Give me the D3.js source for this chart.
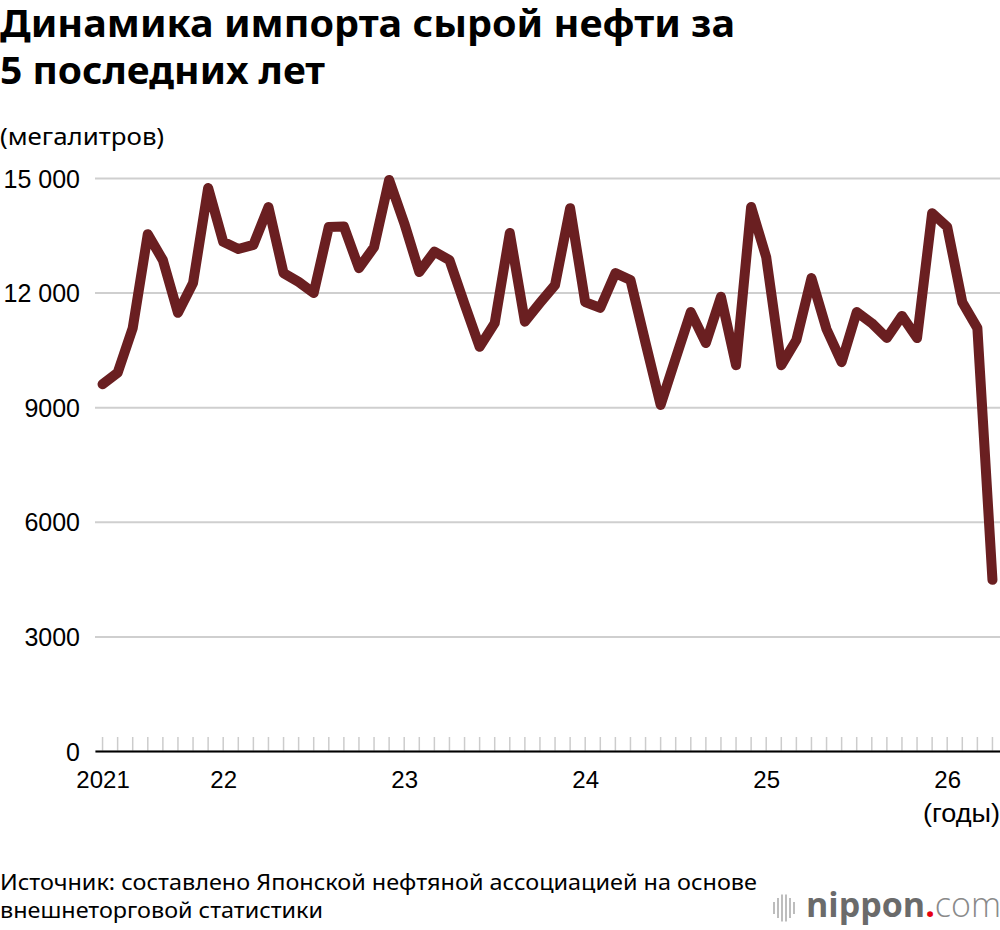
<!DOCTYPE html>
<html>
<head>
<meta charset="utf-8">
<script src="https://cdn.jsdelivr.net/npm/d3@7"></script>
<style>
  body { margin: 0; background: #fff; }
  svg { display: block; }
</style>
</head>
<body>
<script>
// Page size, same as the browser window.
var svg_width = 1000;
var svg_height = 930;

// Monthly imports, May 2021 .. April 2026 (megalitres).
var first_month = new Date(2021, 4, 1);
var months = d3.timeMonth.range(first_month, new Date(2026, 4, 1));
var imports = [
    9600, 9900, 11070, 13530, 12850, 11470, 12250, 14740,
    13330, 13140, 13250, 14240, 12510, 12280, 11990, 13720, 13730, 12640, 13190, 14950,
    13820, 12540, 13070, 12850, 11700, 10580, 11200, 13560, 11240, 11730, 12200, 14210,
    11750, 11600, 12510, 12330, 10680, 9060, 10280, 11490, 10680, 11890, 10100, 14240,
    12930, 10100, 10760, 12380, 11040, 10180, 11490, 11200, 10810, 11390, 10810, 14080,
    13720, 11750, 11070, 4480
];

// Axis labels.
var y_ticks = [0, 3000, 6000, 9000, 12000, 15000];
var y_tick_labels = ["0", "3000", "6000", "9000", "12 000", "15 000"];
var year_ticks = ["2021-05", "2022-01", "2023-01", "2024-01", "2025-01", "2026-01"];
var year_labels = ["2021", "22", "23", "24", "25", "26"];

var title_lines = ["Динамика импорта сырой нефти за", "5 последних лет"];
var unit_label = "(мегалитров)";
var x_unit_label = "(годы)";
var source_lines = [
    "Источник: составлено Японской нефтяной ассоциацией на основе",
    "внешнеторговой статистики"
];

// The plot area.
var chart_margin = { top: 178, right: 0, bottom: 179, left: 95 };
var chartWidth = svg_width - chart_margin.left - chart_margin.right;
var chartHeight = svg_height - chart_margin.top - chart_margin.bottom;

var fmt = d3.timeFormat("%Y-%m");
var keys = months.map(fmt);

var svg = d3.select("body")
    .append("svg")
    .attr("width", svg_width)
    .attr("height", svg_height);

// Title and unit. The original face is a bit wider than Noto Sans,
// so the lines are stretched to the widths seen in the picture.
var title_widths = [735, 325];
svg.append("g")
    .selectAll("text")
    .data(title_lines)
    .enter()
    .append("text")
    .attr("x", 0)
    .attr("y", function (d, i) { return 37 + i * 47; })
    .attr("font-family", "Noto Sans")
    .attr("font-weight", "bold")
    .attr("font-size", "38px")
    .attr("fill", "#000")
    .attr("textLength", function (d, i) { return title_widths[i]; })
    .attr("lengthAdjust", "spacingAndGlyphs")
    .text(function (d) { return d; });

svg.append("text")
    .attr("x", 0)
    .attr("y", 145)
    .attr("font-family", "Noto Sans")
    .attr("font-size", "24px")
    .attr("fill", "#000")
    .attr("textLength", 164)
    .attr("lengthAdjust", "spacingAndGlyphs")
    .text(unit_label);

var chart = svg.append("g")
    .attr("transform", "translate(" + chart_margin.left + "," + chart_margin.top + ")");

var x_axis = d3.scalePoint()
    .domain(keys)
    .range([0, chartWidth])
    .padding(0.5);

var y_axis = d3.scaleLinear()
    .domain([0, 15000])
    .range([chartHeight, 0]);

// Horizontal grid, with left labels.
var grid = chart.append("g")
    .call(d3.axisLeft(y_axis)
        .tickValues(y_ticks)
        .tickSize(-chartWidth)
        .tickFormat(function (d, i) { return y_tick_labels[i]; }));
grid.select(".domain").remove();
grid.selectAll(".tick line")
    .attr("stroke", "#cfcfcf")
    .attr("stroke-width", 2);
grid.selectAll(".tick text")
    .attr("x", -15)
    .attr("dy", "0.36em")
    .attr("font-family", "Liberation Sans")
    .attr("font-size", "25px")
    .attr("fill", "#000");

// Month ticks sitting on top of the baseline.
chart.append("g")
    .selectAll("line")
    .data(keys)
    .enter()
    .append("line")
    .attr("x1", function (d) { return x_axis(d); })
    .attr("x2", function (d) { return x_axis(d); })
    .attr("y1", chartHeight - 14)
    .attr("y2", chartHeight)
    .attr("stroke", "#cccccc")
    .attr("stroke-width", 1.5);

// Baseline + year labels.
var x_axis_g = chart.append("g")
    .attr("transform", "translate(0," + chartHeight + ")")
    .call(d3.axisBottom(x_axis)
        .tickValues(year_ticks)
        .tickSize(0)
        .tickPadding(20)
        .tickFormat(function (d, i) { return year_labels[i]; }));
x_axis_g.select(".domain")
    .attr("stroke", "#000")
    .attr("stroke-width", 2);
x_axis_g.selectAll(".tick text")
    .attr("font-family", "Liberation Sans")
    .attr("font-size", "24px")
    .attr("fill", "#000");

svg.append("text")
    .attr("x", svg_width)
    .attr("y", 822)
    .attr("text-anchor", "end")
    .attr("font-family", "Liberation Sans")
    .attr("font-size", "25px")
    .attr("fill", "#000")
    .attr("textLength", 77)
    .attr("lengthAdjust", "spacingAndGlyphs")
    .text(x_unit_label);

// The line itself.
var line = d3.line()
    .x(function (d, i) { return x_axis(keys[i]); })
    .y(function (d) { return y_axis(d); });

chart.append("path")
    .datum(imports)
    .attr("d", line)
    .attr("fill", "none")
    .attr("stroke", "#6a1f21")
    .attr("stroke-width", 10)
    .attr("stroke-linejoin", "round")
    .attr("stroke-linecap", "round");

// Source note, a narrow face in the original so squeeze it a bit.
svg.append("g")
    .selectAll("text")
    .data(source_lines)
    .enter()
    .append("text")
    .attr("x", 0)
    .attr("y", function (d, i) { return 890 + i * 28; })
    .attr("font-family", "Noto Sans")
    .attr("font-size", "21px")
    .attr("fill", "#000")
    .attr("textLength", function (d, i) { return i === 0 ? 757 : 323; })
    .attr("lengthAdjust", "spacingAndGlyphs")
    .text(function (d) { return d; });

// nippon.com mark.
var logo = svg.append("g");
var bar_x = [773, 777, 781, 785, 789, 793];
var bar_h = [12, 20, 27, 27, 20, 12];
logo.selectAll("rect")
    .data(bar_x)
    .enter()
    .append("rect")
    .attr("x", function (d) { return d; })
    .attr("y", function (d, i) { return 908 - bar_h[i] / 2; })
    .attr("width", 2)
    .attr("height", function (d, i) { return bar_h[i]; })
    .attr("fill", "#bdbdbd");
var logo_text = logo.append("text")
    .attr("x", 806)
    .attr("y", 917)
    .attr("font-family", "Open Sans")
    .attr("font-size", "34px");
logo_text.append("tspan").attr("font-weight", "bold").attr("fill", "#6b6b6b").text("nippon");
logo_text.append("tspan").attr("font-weight", "bold").attr("fill", "#e60012").text(".");
logo_text.append("tspan").attr("font-weight", "300").attr("fill", "#8a8a8a").text("com");
</script>
</body>
</html>
